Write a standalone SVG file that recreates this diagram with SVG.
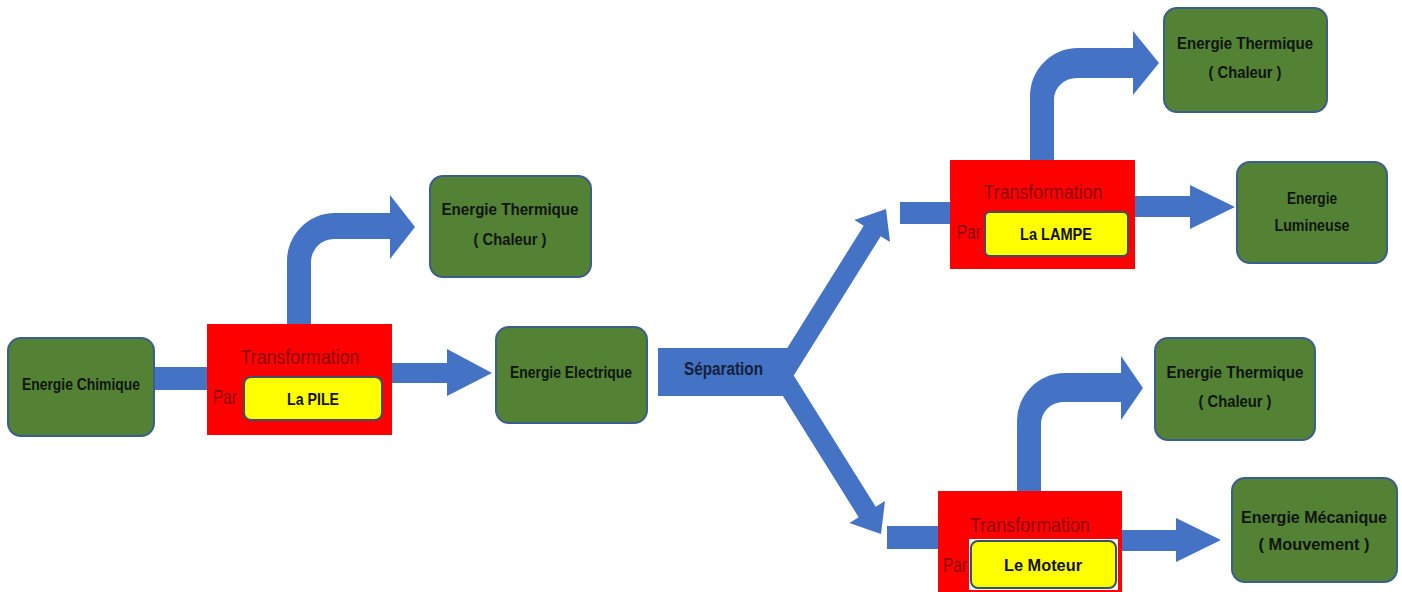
<svg xmlns="http://www.w3.org/2000/svg" width="1402" height="592" viewBox="0 0 1402 592">
  <style>
    .energy { fill: #548235; stroke: #3b5e8c; stroke-width: 2; }
    .energy-text { font-family: "Liberation Sans", Arial, sans-serif; font-weight: bold; font-size: 16.5px; fill: #0f140f; text-anchor: middle; }
    .converter { fill: #ff0000; }
    .device { fill: #ffff00; stroke: #3f4f66; stroke-width: 2; }
    .device-text { font-family: "Liberation Sans", Arial, sans-serif; font-weight: bold; font-size: 17px; fill: #111; text-anchor: middle; }
    .verb { font-family: "Liberation Sans", Arial, sans-serif; font-size: 20px; fill: #8e0000; text-anchor: middle; }
    .par { font-family: "Liberation Sans", Arial, sans-serif; font-size: 20px; fill: #8e0000; }
    .flow { fill: #4472c4; }
    .split-text { font-family: "Liberation Sans", Arial, sans-serif; font-weight: bold; font-size: 17.5px; fill: #14213d; }
  </style>

  <rect width="1402" height="592" fill="#ffffff"/>

  <!-- energy flows (drawn first so the converters sit on top) -->
  <g id="connectors">
    <!-- chimique into the battery -->
    <rect class="flow" x="154" y="367" width="60" height="23"/>
    <!-- battery: heat losses -->
    <path class="flow" d="M287 330 L287 262 A48 48 0 0 1 335 213 L390 213 L390 195 L415 227 L390 259 L390 239 L334 239 A23 23 0 0 0 311 262 L311 330 Z"/>
    <!-- battery: electrical output -->
    <path class="flow" d="M386 363 L447 363 L447 349 L492 373 L447 396 L447 383 L386 383 Z"/>
    <!-- split of the electrical energy -->
    <path class="flow" d="M658 348 L787.3 348 L863.7 225.7 L854.4 219.9 L886 209 L890 242.1 L880.7 236.3 L793.7 375.5 L875.7 506.7 L885 500.9 L881 534 L849.4 523.1 L858.7 517.3 L782.9 396 L658 396 Z"/>
    <!-- feeds into lamp and motor -->
    <rect class="flow" x="900" y="202" width="56" height="22"/>
    <rect class="flow" x="887" y="526" width="56" height="23"/>
    <!-- lamp: heat losses -->
    <path class="flow" d="M1030 166 L1030 97 A48 48 0 0 1 1078 48 L1133 48 L1133 31 L1159 63 L1133 95 L1133 78 L1077 78 A23 21 0 0 0 1054 99 L1054 166 Z"/>
    <!-- lamp: light output -->
    <path class="flow" d="M1130 196 L1190 196 L1190 185 L1235 207 L1190 229 L1190 217 L1130 217 Z"/>
    <!-- motor: heat losses -->
    <path class="flow" d="M1017 497 L1017 422 A48 48 0 0 1 1065 373 L1121 373 L1121 356 L1143 388 L1121 420 L1121 402 L1063 402 A22 22 0 0 0 1041 424 L1041 497 Z"/>
    <!-- motor: mechanical output -->
    <path class="flow" d="M1118 530 L1176 530 L1176 518 L1221 540 L1176 562 L1176 551 L1118 551 Z"/>
    <text class="split-text" x="684" y="375" textLength="79" lengthAdjust="spacingAndGlyphs">Séparation</text>
  </g>

  <!-- energy forms -->
  <g id="chimique">
    <rect class="energy" x="8" y="338" width="146" height="98" rx="13"/>
    <text class="energy-text" x="81" y="390" textLength="118" lengthAdjust="spacingAndGlyphs">Energie Chimique</text>
  </g>
  <g id="thermique-pile">
    <rect class="energy" x="430" y="176" width="161" height="101" rx="13"/>
    <text class="energy-text" x="510" y="215" textLength="137" lengthAdjust="spacingAndGlyphs">Energie Thermique</text>
    <text class="energy-text" x="510" y="245" textLength="73" lengthAdjust="spacingAndGlyphs">( Chaleur )</text>
  </g>
  <g id="electrique">
    <rect class="energy" x="496" y="327" width="151" height="96" rx="13"/>
    <text class="energy-text" x="571" y="378" textLength="122" lengthAdjust="spacingAndGlyphs">Energie Electrique</text>
  </g>
  <g id="thermique-lampe">
    <rect class="energy" x="1164" y="8" width="163" height="104" rx="13"/>
    <text class="energy-text" x="1245" y="49" textLength="136" lengthAdjust="spacingAndGlyphs">Energie Thermique</text>
    <text class="energy-text" x="1245" y="78" textLength="73" lengthAdjust="spacingAndGlyphs">( Chaleur )</text>
  </g>
  <g id="lumineuse">
    <rect class="energy" x="1237" y="162" width="150" height="101" rx="13"/>
    <text class="energy-text" x="1312" y="204" textLength="50" lengthAdjust="spacingAndGlyphs">Energie</text>
    <text class="energy-text" x="1312" y="231" textLength="75" lengthAdjust="spacingAndGlyphs">Lumineuse</text>
  </g>
  <g id="thermique-moteur">
    <rect class="energy" x="1155" y="338" width="160" height="102" rx="13"/>
    <text class="energy-text" x="1235" y="378" textLength="137" lengthAdjust="spacingAndGlyphs">Energie Thermique</text>
    <text class="energy-text" x="1235" y="407" textLength="73" lengthAdjust="spacingAndGlyphs">( Chaleur )</text>
  </g>
  <g id="mecanique">
    <rect class="energy" x="1232" y="478" width="165" height="104" rx="13"/>
    <text class="energy-text" x="1314" y="523" textLength="146" lengthAdjust="spacingAndGlyphs">Energie Mécanique</text>
    <text class="energy-text" x="1314" y="550" textLength="111" lengthAdjust="spacingAndGlyphs">( Mouvement )</text>
  </g>

  <!-- converters -->
  <g id="pile">
    <rect class="converter" x="207" y="324" width="185" height="111"/>
    <text class="verb" x="300" y="364" textLength="119" lengthAdjust="spacingAndGlyphs">Transformation</text>
    <text class="par" x="213" y="404" textLength="24" lengthAdjust="spacingAndGlyphs">Par</text>
    <rect class="device" x="244" y="377" width="138" height="43" rx="7"/>
    <text class="device-text" x="313" y="405" textLength="52" lengthAdjust="spacingAndGlyphs">La PILE</text>
  </g>
  <g id="lampe">
    <rect class="converter" x="950" y="160" width="185" height="109"/>
    <text class="verb" x="1043" y="199" textLength="119" lengthAdjust="spacingAndGlyphs">Transformation</text>
    <text class="par" x="957" y="239" textLength="24" lengthAdjust="spacingAndGlyphs">Par</text>
    <rect class="device" x="985" y="212" width="143" height="44" rx="5" stroke="#1a1a1a"/>
    <text class="device-text" x="1056" y="240" textLength="72" lengthAdjust="spacingAndGlyphs">La LAMPE</text>
  </g>
  <g id="moteur">
    <rect class="converter" x="938" y="491" width="184" height="105"/>
    <text class="verb" x="1030" y="532" textLength="120" lengthAdjust="spacingAndGlyphs">Transformation</text>
    <text class="par" x="943" y="572" textLength="24" lengthAdjust="spacingAndGlyphs">Par</text>
    <rect x="969" y="539" width="149" height="51" fill="#ffffff"/>
    <rect class="device" x="971" y="541" width="145" height="47" rx="7"/>
    <text class="device-text" x="1043" y="571" textLength="78" lengthAdjust="spacingAndGlyphs">Le Moteur</text>
  </g>
</svg>
